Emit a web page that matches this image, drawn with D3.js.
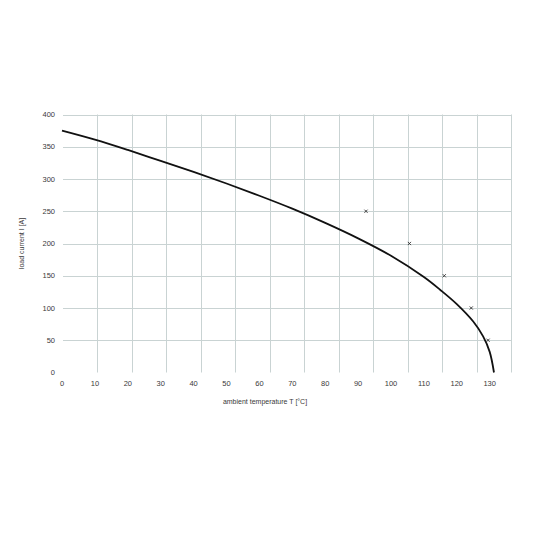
<!DOCTYPE html>
<html>
<head>
<meta charset="utf-8">
<script src="https://cdn.jsdelivr.net/npm/d3@7"></script>
<style>
  body { margin: 0; background: #fff; }
  svg text { font-family: "Liberation Sans", Arial, sans-serif; fill: #3a3a3a; }
</style>
</head>
<body>
<div id="chart"></div>
<script>
// derating curve
const curveTemp = [0, 10, 20, 30, 40, 50, 60, 70, 80, 90, 100, 110, 115, 120, 125, 128, 130, 131.3];
const curveCurrent = [375, 361, 345, 328, 311, 293, 274, 254, 232, 208, 181, 148, 128, 106, 79, 56, 32, 0];

// small x markers
const markTemp = [92.4, 105.6, 116.2, 124.4, 129.5];
const markCurrent = [250, 200, 150, 100, 50];

const xTicks = [0, 10, 20, 30, 40, 50, 60, 70, 80, 90, 100, 110, 120, 130];
const yTicks = [0, 50, 100, 150, 200, 250, 300, 350, 400];

const W = 533, H = 533;
const plot = {left: 63, right: 511, top: 114.5, bottom: 372.5};

const svg = d3.select("#chart").append("svg")
    .attr("width", W)
    .attr("height", H);

const x = d3.scaleLinear().domain([0, 130]).range([62, 489.7]);
const y = d3.scaleLinear().domain([0, 400]).range([plot.bottom, plot.top]);

const gridColor = "#c9d3d3";

// horizontal gridlines
svg.append("g")
    .selectAll("line")
    .data(yTicks.filter(d => d > 0))
    .enter()
    .append("line")
    .attr("x1", plot.left)
    .attr("x2", plot.right)
    .attr("y1", d => Math.round(y(d)) + 0.5)
    .attr("y2", d => Math.round(y(d)) + 0.5)
    .attr("stroke", gridColor)
    .attr("stroke-width", 1);

// vertical gridlines (13 equal cells, not aligned with labels)
const vLines = d3.range(1, 14).map(i => plot.left + i * (plot.right - plot.left) / 13);
svg.append("g")
    .selectAll("line")
    .data(vLines)
    .enter()
    .append("line")
    .attr("x1", d => Math.round(d) + 0.5)
    .attr("x2", d => Math.round(d) + 0.5)
    .attr("y1", plot.top)
    .attr("y2", plot.bottom)
    .attr("stroke", gridColor)
    .attr("stroke-width", 1);

// y tick labels
svg.append("g")
    .selectAll("text")
    .data(yTicks)
    .enter()
    .append("text")
    .attr("x", 55)
    .attr("y", d => y(d))
    .attr("dy", "0.35em")
    .attr("text-anchor", "end")
    .style("font-size", "7.5px")
    .text(d => d);

// x tick labels
svg.append("g")
    .selectAll("text")
    .data(xTicks)
    .enter()
    .append("text")
    .attr("x", d => x(d))
    .attr("y", 385.5)
    .attr("text-anchor", "middle")
    .style("font-size", "7.5px")
    .text(d => d);

// axis titles
svg.append("text")
    .attr("x", 265)
    .attr("y", 404)
    .attr("text-anchor", "middle")
    .style("font-size", "7px")
    .text("ambient temperature T [°C]");

svg.append("text")
    .attr("transform", `translate(24,${(plot.top + plot.bottom) / 2}) rotate(-90)`)
    .attr("text-anchor", "middle")
    .style("font-size", "7px")
    .text("load current I [A]");

// curve
const curveData = curveTemp.map((t, i) => ({t, v: curveCurrent[i]}));
const line = d3.line()
    .x(d => x(d.t))
    .y(d => y(d.v))
    .curve(d3.curveCatmullRom.alpha(0.5));

svg.append("path")
    .datum(curveData)
    .attr("d", line)
    .attr("fill", "none")
    .attr("stroke", "#111")
    .attr("stroke-width", 1.8);

// x markers
const markData = markTemp.map((t, i) => ({t, v: markCurrent[i]}));
svg.append("g")
    .selectAll("path")
    .data(markData)
    .enter()
    .append("path")
    .attr("d", d3.symbol().type(d3.symbolX).size(8))
    .attr("transform", d => `translate(${x(d.t)},${y(d.v)})`)
    .attr("fill", "none")
    .attr("stroke", "#333")
    .attr("stroke-width", 0.9);
</script>
</body>
</html>
